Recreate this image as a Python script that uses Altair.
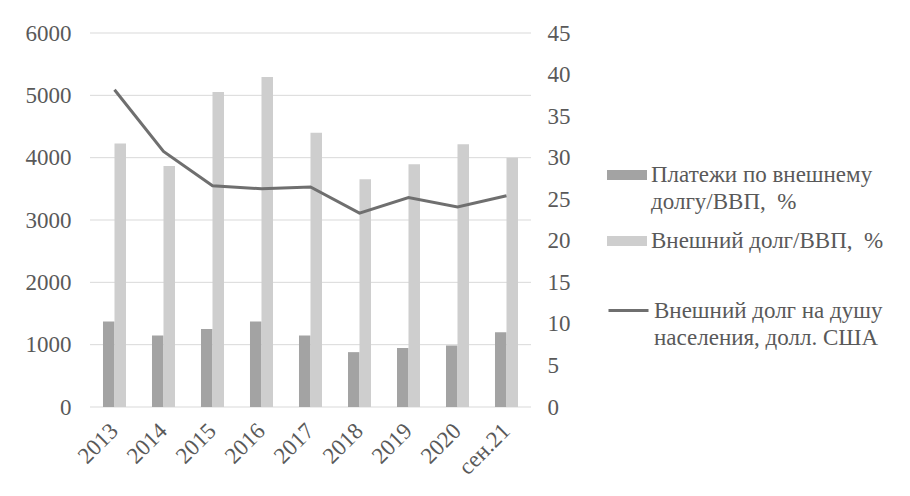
import altair as alt
import pandas as pd

categories = ["2013", "2014", "2015", "2016", "2017", "2018", "2019", "2020", "сен.21"]
payments_gdp = [10.3, 8.6, 9.4, 10.3, 8.6, 6.6, 7.1, 7.4, 9.0]
debt_gdp = [31.7, 29.0, 37.9, 39.7, 33.0, 27.4, 29.2, 31.6, 30.0]
debt_per_capita = [5090, 4100, 3550, 3500, 3530, 3110, 3360, 3210, 3390]

left_ticks = [0, 1000, 2000, 3000, 4000, 5000, 6000]
right_ticks = [0, 5, 10, 15, 20, 25, 30, 35, 40, 45]

s1 = "Платежи по внешнему|долгу/ВВП,\u00a0\u00a0%"
s2 = "Внешний долг/ВВП,\u00a0\u00a0%"
s3 = "Внешний долг на душу|населения, долл. США"

bars_df = pd.DataFrame(
    {"cat": categories * 2,
     "series": [s1] * len(categories) + [s2] * len(categories),
     "value": payments_gdp + debt_gdp}
)
line_df = pd.DataFrame({"cat": categories, "series": [s3] * len(categories), "value": debt_per_capita})
# horizontal gridlines of the left axis, expressed on the right (bar) scale
grid_df = pd.DataFrame({"g": [v * 45 / 6000 for v in left_ticks]})

FONT = "Liberation Serif"
TXT = "#595959"
FS = 23

xenc = alt.X(
    "cat:N", sort=categories, title=None,
    scale=alt.Scale(paddingInner=0.53, paddingOuter=0.265),
    axis=alt.Axis(labelAngle=-45, labelAlign="right", labelBaseline="middle", labelPadding=20,
                  labelFont=FONT, labelFontSize=FS, labelColor=TXT, domain=False, ticks=False,
                  grid=False),
)

right_axis = alt.Axis(orient="right", values=right_ticks, grid=False, domain=False,
                      ticks=False, labelPadding=16, labelFont=FONT, labelFontSize=FS,
                      labelColor=TXT)
right_scale = alt.Scale(domain=[0, 45], nice=False)

leg_kw = dict(title=None, orient="none", labelFont=FONT, labelFontSize=FS, labelColor=TXT,
              labelExpr="split(datum.label, '|')", labelOffset=4, labelLimit=400)

grid = alt.Chart(grid_df).mark_rule(color="#d9d9d9", strokeWidth=1).encode(
    y=alt.Y("g:Q", title=None, scale=right_scale, axis=right_axis)
)

bars = alt.Chart(bars_df).mark_bar().encode(
    x=xenc,
    xOffset=alt.XOffset("series:N", sort=[s1, s2], scale=alt.Scale(paddingInner=0, paddingOuter=0)),
    y=alt.Y("value:Q", title=None, scale=right_scale, axis=right_axis),
    fill=alt.Fill("series:N", sort=[s1, s2],
                  scale=alt.Scale(domain=[s1, s2], range=["#a3a3a3", "#cecece"]),
                  legend=alt.Legend(legendX=517, legendY=122, rowPadding=7,
                                    symbolType="M-1,-0.25L1,-0.25L1,0.25L-1,0.25Z",
                                    symbolSize=1600, symbolStrokeWidth=0, **leg_kw)),
)

line = alt.Chart(line_df).mark_line(strokeWidth=3).encode(
    x=xenc,
    y=alt.Y("value:Q", title=None, scale=alt.Scale(domain=[0, 6000], nice=False),
            axis=alt.Axis(orient="left", values=left_ticks, format="d", grid=False,
                          domain=False, ticks=False, labelPadding=19, labelFont=FONT,
                          labelFontSize=FS, labelColor=TXT)),
    stroke=alt.Stroke("series:N", scale=alt.Scale(domain=[s3], range=["#6f6f6f"]),
                      legend=alt.Legend(legendX=517, legendY=256, symbolType="stroke",
                                        symbolSize=1600, symbolStrokeWidth=3, **leg_kw)),
)

chart = alt.layer(alt.layer(grid, bars), line).resolve_scale(y="independent").properties(
    width=441, height=374,
    autosize=alt.AutoSizeParams(type="none"),
    padding={"left": 82, "top": 25, "right": 370, "bottom": 80},
).configure(
    background="white",
    view=alt.ViewConfig(stroke=None),
    style={"guide-label": {"lineHeight": 27}},
)

chart.save("out.html", embed_options={"renderer": "svg", "actions": False})
